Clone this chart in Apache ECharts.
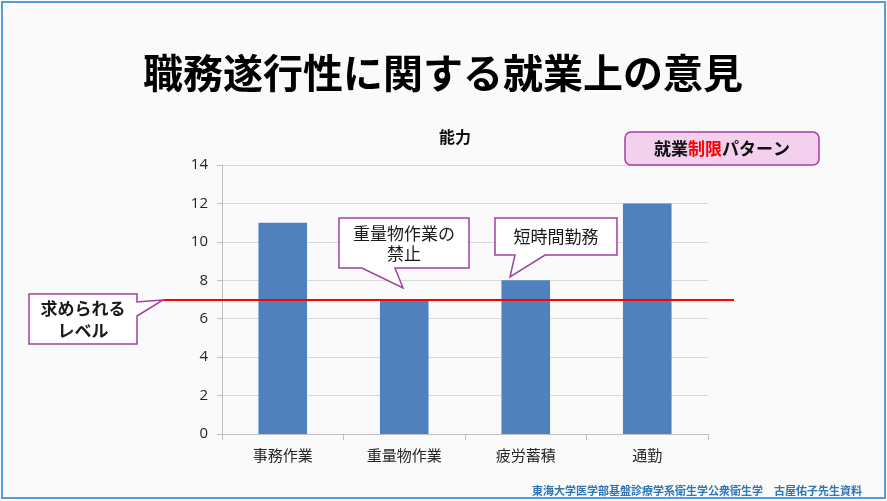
<!doctype html>
<html lang="ja">
<head>
    <meta charset="UTF-8">
    <script type="text/javascript" src="https://cdn.jsdelivr.net/npm/echarts@6/dist/echarts.min.js"></script>
    <title>職務遂行性に関する就業上の意見</title>
    <style>
        html, body { margin: 0; padding: 0; background: #fafafa; }
    </style>
</head>
<body>
    <div id="main" style="width: 887px;height:501px;"></div>
</body>
<script type="text/javascript">
    // データ
    var categories = ['事務作業', '重量物作業', '疲労蓄積', '通勤'];
    var abilityValues = [11, 7, 8, 12];
    var requiredLevel = 7;
    var yTicks = [0, 2, 4, 6, 8, 10, 12, 14];

    var fontJP = '"Noto Sans CJK JP", "Noto Sans", sans-serif';
    var calloutStroke = '#a040a0';

    // 吹き出し（多角形＋テキスト）
    function callout(points, texts, bold) {
        var items = [{
            type: 'polygon',
            shape: { points: points },
            style: { fill: '#ffffff', stroke: calloutStroke, lineWidth: 1.5 },
            z: 10
        }];
        texts.forEach(function (t) {
            items.push({
                type: 'text',
                x: t[0], y: t[1],
                style: {
                    text: t[2], fill: '#1a1a1a',
                    font: (bold ? 'bold ' : '') + '17px ' + fontJP,
                    align: 'center', verticalAlign: 'middle'
                },
                z: 11
            });
        });
        return items;
    }

    var graphics = [
        {
            type: 'rect',
            shape: { x: 2, y: 2, width: 883, height: 496 },
            style: { fill: 'none', stroke: '#5b9bd5', lineWidth: 2 },
            z: 1
        },
        {
            type: 'text', x: 443, y: 73,
            style: {
                text: '職務遂行性に関する就業上の意見', fill: '#000',
                font: 'bold 40px ' + fontJP, align: 'center', verticalAlign: 'middle'
            }
        },
        {
            type: 'text', x: 862, y: 491,
            style: {
                text: '東海大学医学部基盤診療学系衛生学公衆衛生学　古屋佑子先生資料', fill: '#2e75b6',
                font: 'bold 11px ' + fontJP, align: 'right', verticalAlign: 'middle'
            }
        },
        // 凡例風のボックス
        {
            type: 'rect',
            shape: { x: 625, y: 132, width: 194, height: 33, r: 6 },
            style: { fill: '#f2d0ee', stroke: calloutStroke, lineWidth: 1.5 },
            z: 10
        },
        {
            type: 'text', x: 722, y: 149,
            style: {
                text: '{k|就業}{r|制限}{k|パターン}',
                align: 'center', verticalAlign: 'middle',
                rich: {
                    k: { fill: '#111', font: 'bold 17px ' + fontJP },
                    r: { fill: '#ff0000', font: 'bold 17px ' + fontJP }
                }
            },
            z: 11
        }
    ];

    graphics = graphics
        .concat(callout([[29, 294], [137, 294], [137, 302], [163, 300], [137, 316], [137, 344], [29, 344]],
            [[83, 309, '求められる'], [83, 331, 'レベル']], true))
        .concat(callout([[339, 218], [469, 218], [469, 268], [395, 268], [403, 288], [362, 268], [339, 268]],
            [[404, 234, '重量物作業の'], [404, 254, '禁止']], false))
        .concat(callout([[495, 218], [617, 218], [617, 255], [545, 255], [510, 277], [515, 255], [495, 255]],
            [[556, 237, '短時間勤務']], false));

    var myChart = echarts.init(document.getElementById('main'));
    myChart.setOption({
        backgroundColor: '#fafafa',
        animation: false,
        textStyle: { fontFamily: fontJP },
        title: {
            text: '能力',
            left: 450, top: 124,
            textAlign: 'center',
            textStyle: { fontSize: 16, fontWeight: 'bold', color: '#111' }
        },
        grid: { left: 222, right: 179, top: 165, bottom: 67 },
        xAxis: {
            type: 'category',
            data: categories,
            axisLine: { lineStyle: { color: '#bfbfbf' } },
            axisTick: { show: true, length: 6, lineStyle: { color: '#bfbfbf' } },
            axisLabel: { fontSize: 15, color: '#262626', margin: 14 }
        },
        yAxis: {
            type: 'value',
            min: yTicks[0],
            max: yTicks[yTicks.length - 1],
            interval: yTicks[1] - yTicks[0],
            axisLine: { show: true, lineStyle: { color: '#bfbfbf' } },
            axisTick: { show: true, length: 5, lineStyle: { color: '#bfbfbf' } },
            axisLabel: { fontSize: 15, color: '#262626', margin: 14, fontFamily: '"Open Sans", sans-serif' },
            splitLine: { lineStyle: { color: '#d9d9d9' } }
        },
        series: [{
            name: '能力',
            type: 'bar',
            data: abilityValues,
            barWidth: '40%',
            itemStyle: { color: '#4f81bd' },
            markLine: {
                silent: true,
                symbol: 'none',
                label: { show: false },
                lineStyle: { color: '#ff0000', width: 2, type: 'solid' },
                data: [[{ yAxis: requiredLevel, x: 163 }, { yAxis: requiredLevel, x: 734 }]]
            }
        }],
        graphic: graphics
    });
</script>
</html>
